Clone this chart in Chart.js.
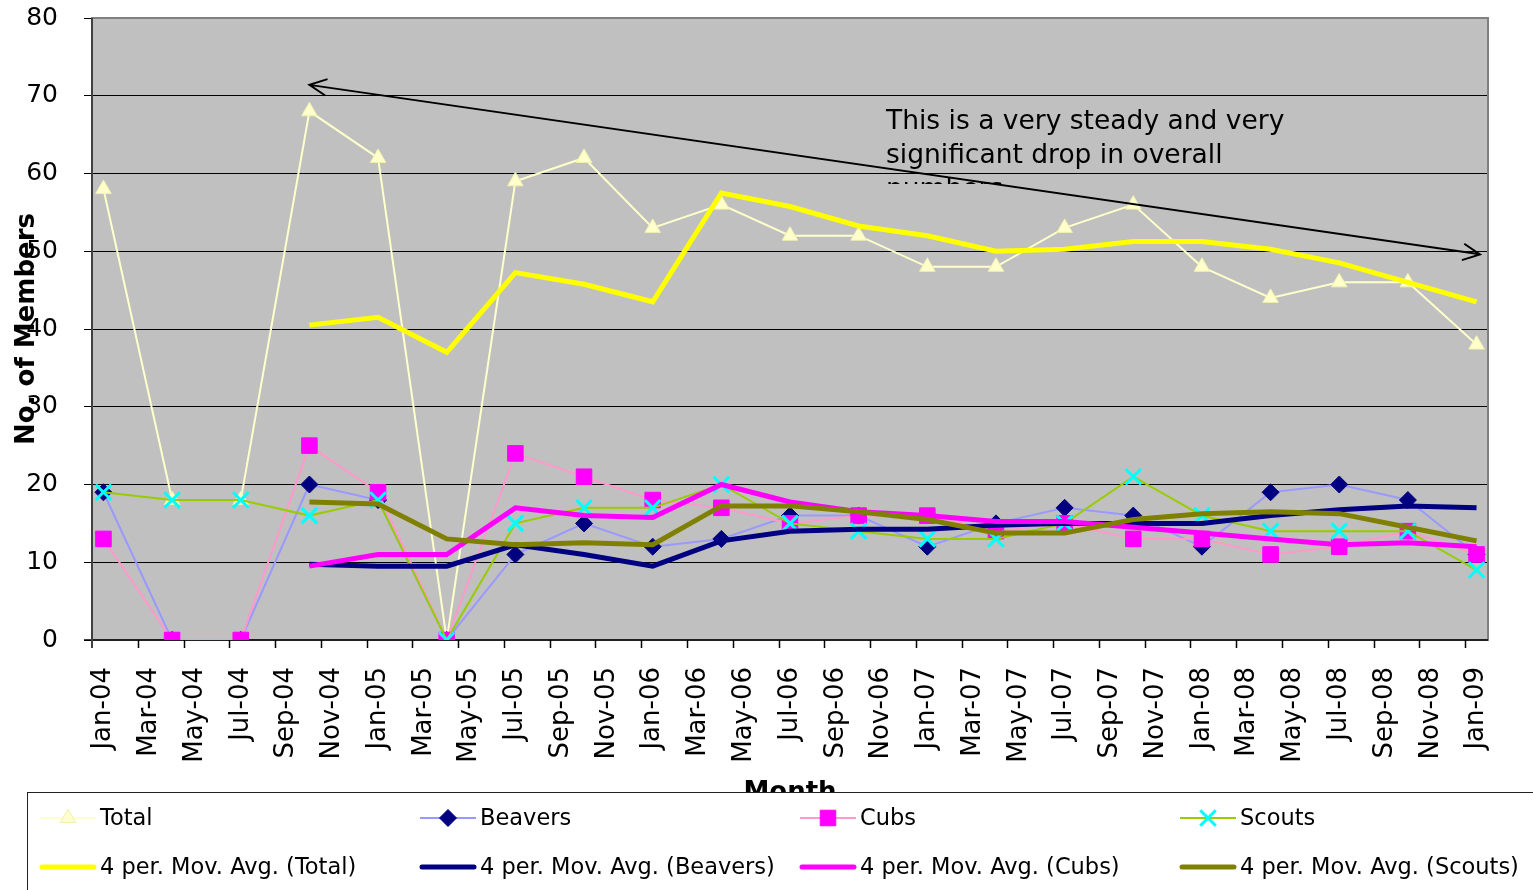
<!DOCTYPE html>
<html>
<head>
<meta charset="utf-8">
<script src="https://cdn.jsdelivr.net/npm/chart.js@4.4.1/dist/chart.umd.min.js"></script>
<style>
html, body { margin: 0; padding: 0; background: #fff; }
canvas { display: block; }
</style>
</head>
<body>
<canvas id="membros" width="1533" height="890"></canvas>
<script>
// eixo x: um rotulo por mes, de Jan-04 a Jan-09
var monthNames = ['Jan','Feb','Mar','Apr','May','Jun','Jul','Aug','Sep','Oct','Nov','Dec'];
var years = ['04','05','06','07','08','09'];
var months = [];
years.forEach(function (yy) {
    monthNames.forEach(function (m) { months.push(m + '-' + yy); });
});
months = months.slice(0, 61);

// contagens trimestrais
var quarters = ['Jan-04','Apr-04','Jul-04','Oct-04','Jan-05','Apr-05','Jul-05','Oct-05','Jan-06','Apr-06',
                'Jul-06','Oct-06','Jan-07','Apr-07','Jul-07','Oct-07','Jan-08','Apr-08','Jul-08','Oct-08','Jan-09'];
var total   = [58,18,18,68,62,0,59,62,53,56,52,52,48,48,53,56,48,44,46,46,38];
var beavers = [19,0,0,20,18,0,11,15,12,13,16,16,12,15,17,16,12,19,20,18,11];
var cubs    = [13,0,0,25,19,0,24,21,18,17,15,16,16,14,15,13,13,11,12,14,11];
var scouts  = [19,18,18,16,18,0,15,17,17,20,15,14,13,13,15,21,16,14,14,14,9];

// medias moveis (4 periodos), de Oct-04 em diante
var maQuarters = quarters.slice(3);
var maTotal   = [40.5,41.5,37,47.25,45.75,43.5,57.5,55.75,53.25,52,50,50.25,51.25,51.25,50.25,48.5,46,43.5];
var maBeavers = [9.75,9.5,9.5,12.25,11,9.5,12.75,14,14.25,14.25,14.75,15,15,15,16,16.75,17.25,17];
var maCubs    = [9.5,11,11,17,16,15.75,20,17.75,16.5,16,15.25,15.25,14.5,13.75,13,12.25,12.5,12];
var maScouts  = [17.75,17.5,13,12.25,12.5,12.25,17.25,17.25,16.5,15.5,13.75,13.75,15.5,16.25,16.5,16.25,14.5,12.75];

var yTicks = [0, 10, 20, 30, 40, 50, 60, 70, 80];

function pts(xs, ys) {
    return xs.map(function (x, i) { return { x: x, y: ys[i] }; });
}

function serie(label, xs, ys, cor, style, fill, border, radius, order) {
    return {
        label: label, data: pts(xs, ys), order: order,
        borderColor: cor, borderWidth: 2,
        pointStyle: style, pointRadius: radius,
        pointBackgroundColor: fill, pointBorderColor: border, pointBorderWidth: style === 'crossRot' ? 3 : 1
    };
}

function media(label, ys, cor, order) {
    return {
        label: label, data: pts(maQuarters, ys), order: order,
        borderColor: cor, borderWidth: 5, pointRadius: 0, ma: true
    };
}

Chart.defaults.font.family = 'DejaVu Sans';
Chart.defaults.color = '#000';

var extras = {
    id: 'extras',
    beforeDraw: function (chart) {
        var a = chart.chartArea, ctx = chart.ctx;
        ctx.save();
        ctx.fillStyle = '#fff';
        ctx.fillRect(0, 0, chart.width, chart.height);
        ctx.fillStyle = '#c0c0c0';
        ctx.fillRect(a.left, a.top, a.right - a.left, a.bottom - a.top);
        ctx.restore();
    },
    beforeDatasetsDraw: function (chart) {
        var a = chart.chartArea, ctx = chart.ctx, xs = chart.scales.x;
        ctx.save();
        ctx.strokeStyle = '#808080';
        ctx.lineWidth = 2;
        ctx.strokeRect(a.left, a.top, a.right - a.left, a.bottom - a.top);
        ctx.strokeStyle = '#000';
        ctx.lineWidth = 1.5;
        ctx.beginPath();
        ctx.moveTo(a.left - 8, a.bottom); ctx.lineTo(a.right, a.bottom);
        ctx.stroke();
        ctx.strokeStyle = '#404040';
        ctx.lineWidth = 2;
        ctx.beginPath();
        ctx.moveTo(a.left, a.top); ctx.lineTo(a.left, a.bottom + 8);
        ctx.stroke();
        ctx.strokeStyle = '#000';
        ctx.lineWidth = 1.5;
        for (var i = 2; i < months.length; i += 2) {
            var px = Math.round(xs.getPixelForValue(i - 0.5)) + 0.5;
            ctx.beginPath();
            ctx.moveTo(px, a.bottom); ctx.lineTo(px, a.bottom + 8);
            ctx.stroke();
        }
        ctx.restore();
    },
    afterDraw: function (chart) {
        var a = chart.chartArea, ctx = chart.ctx, xs = chart.scales.x, ys = chart.scales.y;
        ctx.save();

        // seta
        var x1 = xs.getPixelForValue(9), y1 = ys.getPixelForValue(71.4);
        var x2 = xs.getPixelForValue(60.15), y2 = ys.getPixelForValue(49.6);
        var ang = Math.atan2(y2 - y1, x2 - x1), h = 19, ab = 0.45;
        ctx.strokeStyle = '#000';
        ctx.lineWidth = 2;
        ctx.beginPath();
        ctx.moveTo(x1, y1); ctx.lineTo(x2, y2);
        ctx.moveTo(x1 + h * Math.cos(ang - ab), y1 + h * Math.sin(ang - ab));
        ctx.lineTo(x1, y1);
        ctx.lineTo(x1 + h * Math.cos(ang + ab), y1 + h * Math.sin(ang + ab));
        ctx.moveTo(x2 - h * Math.cos(ang - ab), y2 - h * Math.sin(ang - ab));
        ctx.lineTo(x2, y2);
        ctx.lineTo(x2 - h * Math.cos(ang + ab), y2 - h * Math.sin(ang + ab));
        ctx.stroke();

        // nota
        ctx.save();
        ctx.beginPath();
        ctx.rect(870, 98, 460, 86);
        ctx.clip();
        ctx.fillStyle = '#000';
        ctx.font = '26.5px "DejaVu Sans"';
        ctx.textBaseline = 'alphabetic';
        ctx.textAlign = 'left';
        ctx.fillText('This is a very steady and very', 886, 129);
        ctx.fillText('significant drop in overall', 886, 163);
        ctx.fillText('numbers', 886, 197);
        ctx.restore();

        // titulos dos eixos
        ctx.fillStyle = '#000';
        ctx.font = 'bold 26px "DejaVu Sans"';
        ctx.textAlign = 'center';
        ctx.textBaseline = 'middle';
        ctx.save();
        ctx.translate(27, (a.top + a.bottom) / 2);
        ctx.rotate(-Math.PI / 2);
        ctx.fillText('No. of Members', 0, 0);
        ctx.restore();
        ctx.font = 'bold 26px "DejaVu Sans"';
        ctx.textBaseline = 'alphabetic';
        ctx.fillText('Month', (a.left + a.right) / 2, 800);

        // legenda
        ctx.fillStyle = '#fff';
        ctx.fillRect(27, 792, chart.width - 27, chart.height - 792);
        ctx.strokeStyle = '#222';
        ctx.lineWidth = 1;
        ctx.strokeRect(27.5, 792.5, chart.width + 20, chart.height);
        var cols = [40, 420, 800, 1180], rows = [818, 867];
        ctx.font = '22.5px "DejaVu Sans"';
        ctx.textAlign = 'left';
        ctx.textBaseline = 'middle';
        chart.data.datasets.forEach(function (ds, i) {
            var lx = cols[i % 4], ly = rows[Math.floor(i / 4)];
            ctx.strokeStyle = ds.borderColor;
            ctx.lineWidth = ds.borderWidth;
            ctx.lineCap = ds.ma ? 'round' : 'butt';
            ctx.beginPath();
            ctx.moveTo(lx + (ds.ma ? 2 : 0), ly); ctx.lineTo(lx + 56 - (ds.ma ? 2 : 0), ly);
            ctx.stroke();
            if (!ds.ma) {
                ctx.fillStyle = ds.pointBackgroundColor;
                ctx.strokeStyle = ds.pointBorderColor;
                ctx.lineWidth = ds.pointBorderWidth;
                Chart.helpers.drawPoint(ctx, { pointStyle: ds.pointStyle, radius: ds.pointRadius, rotation: 0, borderWidth: ds.pointBorderWidth }, lx + 28, ly);
            }
            ctx.fillStyle = '#000';
            ctx.fillText(ds.label, lx + 60, ly + 1);
        });
        ctx.restore();
    }
};

function semPadding(s) {
    s.paddingTop = 0; s.paddingBottom = 0; s.paddingLeft = 0; s.paddingRight = 0;
}

var ctx = document.getElementById('membros').getContext('2d');
var chart = new Chart(ctx, {
    type: 'line',
    data: {
        labels: months,
        datasets: [
            serie('Total', quarters, total, '#ffffcc', 'triangle', '#ffffcc', '#f0f0b0', 9, 8),
            serie('Beavers', quarters, beavers, '#9999ff', 'rectRot', '#000080', '#000080', 8.5, 7),
            serie('Cubs', quarters, cubs, '#ff99cc', 'rect', '#ff00ff', '#ff00ff', 11, 6),
            serie('Scouts', quarters, scouts, '#99cc00', 'crossRot', '#00ffff', '#00ffff', 11, 5),
            media('4 per. Mov. Avg. (Total)', maTotal, '#ffff00', 4),
            media('4 per. Mov. Avg. (Beavers)', maBeavers, '#000080', 3),
            media('4 per. Mov. Avg. (Cubs)', maCubs, '#ff00ff', 2),
            media('4 per. Mov. Avg. (Scouts)', maScouts, '#808000', 1)
        ]
    },
    options: {
        responsive: false,
        animation: false,
        layout: { padding: { left: 0, top: 18, right: 45, bottom: 0 } },
        plugins: {
            legend: { display: false },
            tooltip: { enabled: false }
        },
        scales: {
            x: {
                type: 'category',
                offset: true,
                grid: { display: false },
                border: { display: false },
                afterFit: function (s) { s.height = 250; semPadding(s); },
                ticks: {
                    autoSkip: false,
                    minRotation: 90,
                    maxRotation: 90,
                    padding: 19,
                    font: { size: 26 },
                    callback: function (v, i) { return i % 2 === 0 ? months[i] : ''; }
                }
            },
            y: {
                min: 0,
                max: 80,
                afterFit: function (s) { s.width = 92; semPadding(s); },
                afterBuildTicks: function (s) { s.ticks = yTicks.map(function (v) { return { value: v }; }); },
                grid: { color: '#000', lineWidth: 1, tickLength: 8 },
                border: { display: false },
                ticks: { padding: 26, font: { size: 25 } }
            }
        }
    },
    plugins: [extras]
});
</script>
</body>
</html>
